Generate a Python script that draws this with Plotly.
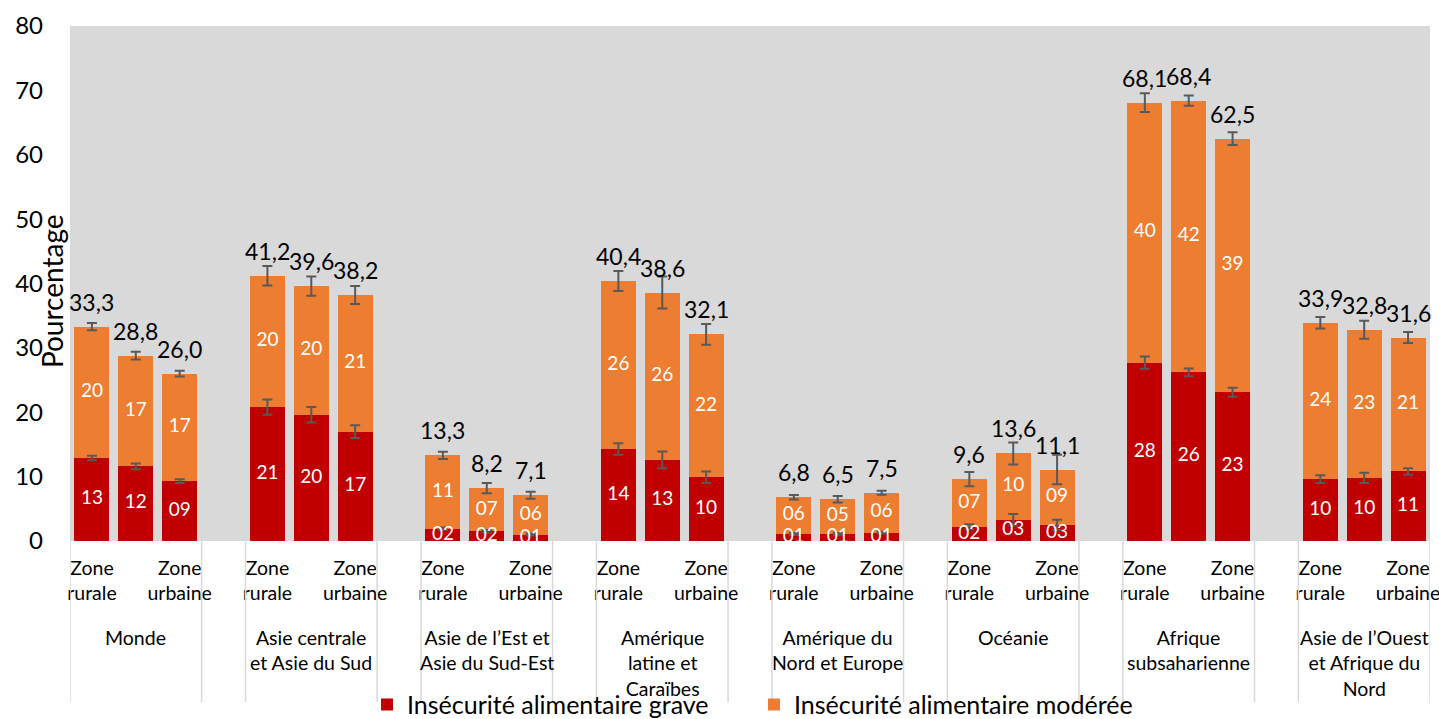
import plotly.graph_objects as go

regions = ["Monde", "Asie centrale<br>et Asie du Sud", "Asie de l’Est et<br>Asie du Sud-Est",
           "Amérique<br>latine et<br>Caraïbes", "Amérique du<br>Nord et Europe", "Océanie",
           "Afrique<br>subsaharienne", "Asie de l’Ouest<br>et Afrique du<br>Nord"]
zones = ["Zone<br>rurale", "", "Zone<br>urbaine"]

severe = [12.9, 11.6, 9.3, 20.8, 19.6, 17.0, 1.9, 1.5, 1.0, 14.3, 12.6, 9.9,
          1.1, 1.1, 1.3, 2.2, 3.3, 2.5, 27.7, 26.2, 23.1, 9.6, 9.8, 10.8]
moderate = [20.4, 17.2, 16.7, 20.4, 20.0, 21.2, 11.4, 6.7, 6.1, 26.1, 26.0, 22.2,
            5.7, 5.4, 6.2, 7.4, 10.3, 8.6, 40.4, 42.2, 39.4, 24.3, 23.0, 20.8]
severe_err = [0.35, 0.45, 0.3, 1.2, 1.2, 1.0, 0.2, 0.2, 0.15, 0.9, 1.3, 0.9,
              0.15, 0.15, 0.15, 0.4, 0.9, 0.8, 0.95, 0.6, 0.7, 0.6, 0.8, 0.5]
total_err = [0.55, 0.6, 0.45, 1.5, 1.5, 1.4, 0.55, 0.8, 0.55, 1.55, 2.5, 1.6,
             0.35, 0.5, 0.3, 1.1, 1.7, 2.3, 1.45, 0.8, 1.0, 0.9, 1.4, 0.85]

series_names = ["Insécurité alimentaire grave", "Insécurité alimentaire modérée"]
colors = ["#c00000", "#ed7d31"]

FONT = "Lato"
n_zone = len(zones)
step = n_zone + 1
xpos = [g * step + k for g in range(len(regions)) for k in range(n_zone)]
totals = [round(s + m, 1) for s, m in zip(severe, moderate)]


def lab2(v):
    return "%02d" % int(v + 0.5 + 1e-9)


fig = go.Figure()
fig.add_trace(go.Bar(x=xpos, y=severe, name=series_names[0], marker_color=colors[0],
                     marker_line_width=0, width=0.8, hoverinfo="skip"))
fig.add_trace(go.Bar(x=xpos, y=moderate, name=series_names[1], marker_color=colors[1],
                     marker_line_width=0, width=0.8, hoverinfo="skip"))

err_style = dict(type="data", visible=True, color="#595959", thickness=2, width=5)
fig.add_trace(go.Scatter(x=xpos, y=severe, mode="markers", marker=dict(size=1, opacity=0),
                         error_y=dict(array=severe_err, **err_style), showlegend=False,
                         hoverinfo="skip", cliponaxis=False))
fig.add_trace(go.Scatter(x=xpos, y=totals, mode="markers", marker=dict(size=1, opacity=0),
                         error_y=dict(array=total_err, **err_style), showlegend=False,
                         hoverinfo="skip", cliponaxis=False))

# segment labels
fig.add_trace(go.Scatter(x=xpos, y=[s / 2 for s in severe], mode="text",
                         text=[lab2(s) for s in severe], showlegend=False, hoverinfo="skip",
                         textfont=dict(family=FONT, size=19, color="white"), cliponaxis=True))
fig.add_trace(go.Scatter(x=xpos, y=[s + m / 2 for s, m in zip(severe, moderate)], mode="text",
                         text=[lab2(m) for m in moderate], showlegend=False, hoverinfo="skip",
                         textfont=dict(family=FONT, size=19, color="white"), cliponaxis=True))

annotations = []
for x, t in zip(xpos, totals):
    annotations.append(dict(x=x, y=t, xref="x", yref="y", text=("%.1f" % t).replace(".", ","),
                            showarrow=False, yshift=25, yanchor="middle",
                            font=dict(family=FONT, size=23, color="black")))
for g, r in enumerate(regions):
    annotations.append(dict(x=g * step + (n_zone - 1) / 2, y=-0.162, xref="x", yref="paper",
                            text=r, showarrow=False, yanchor="top", xanchor="center",
                            font=dict(family=FONT, size=19.5, color="black")))
annotations.append(dict(x=-0.0128, y=0.4845, xref="paper", yref="paper", text="Pourcentage",
                        textangle=-90, showarrow=False, xanchor="center", yanchor="middle",
                        font=dict(family=FONT, size=28, color="black")))

shapes = []
bounds = []
for g in range(len(regions)):
    bounds.append(g * step - 0.5)
    bounds.append(g * step + n_zone - 0.5)
for b in bounds:
    shapes.append(dict(type="line", xref="x", yref="paper", x0=b, x1=b, y0=0, y1=-0.313,
                       line=dict(color="#d9d9d9", width=1.5)))

tickvals = [x for i, x in enumerate(xpos) if zones[i % n_zone]]
ticktext = [zones[i % n_zone] for i in range(len(xpos)) if zones[i % n_zone]]

fig.update_layout(
    width=1439, height=719,
    margin=dict(l=70, r=9, t=26, b=178, autoexpand=False),
    barmode="stack",
    plot_bgcolor="#d9d9d9", paper_bgcolor="white",
    font=dict(family=FONT, color="black"),
    xaxis=dict(range=[-0.5, len(regions) * step - 1.5], tickvals=tickvals, ticktext=ticktext,
               showgrid=False, zeroline=False, showline=False, ticks="",
               tickfont=dict(family=FONT, size=19.5, color="black"), tickangle=0,
               ticklabelstandoff=13, ticklabeloverflow="allow"),
    yaxis=dict(range=[0, 80], dtick=10, showgrid=False, zeroline=False, showline=False,
               ticks="", tickfont=dict(family=FONT, size=24, color="black"),
               ticklabelstandoff=26),
    legend=dict(orientation="h", x=0.2184, xanchor="left", y=-0.318, yanchor="middle",
                font=dict(family=FONT, size=25, color="black"), bgcolor="rgba(0,0,0,0)",
                traceorder="normal", entrywidth=342, entrywidthmode="pixels"),
    annotations=annotations,
    shapes=shapes,
    bargap=0,
)

fig.write_html("out.html")
